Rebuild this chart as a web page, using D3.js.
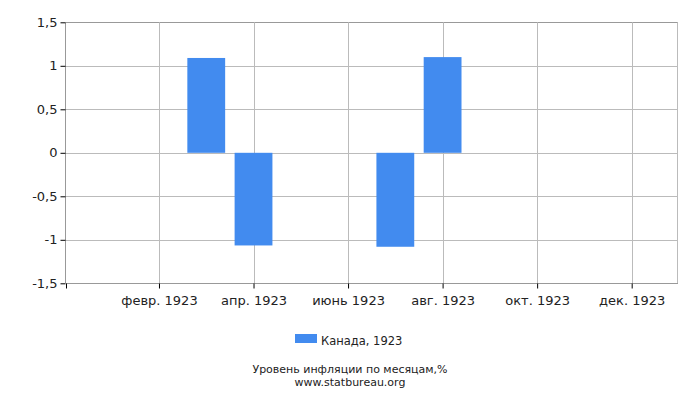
<!DOCTYPE html>
<html><head><meta charset="utf-8">
<script src="https://cdn.jsdelivr.net/npm/d3@7"></script>
<style>body{margin:0;background:#fff;}text{font-family:"DejaVu Sans",sans-serif;}</style>
</head><body>
<svg id="c" width="700" height="400"></svg>
<script>
const months = ["янв. 1923","февр. 1923","март 1923","апр. 1923","май 1923","июнь 1923","июль 1923","авг. 1923","сент. 1923","окт. 1923","нояб. 1923","дек. 1923"];
const values = [null, null, 1.09, -1.065, null, null, -1.08, 1.10, null, null, null, null];
const tickMonths = [1, 3, 5, 7, 9, 11];
const yTicks = [-1.5, -1, -0.5, 0, 0.5, 1, 1.5];
const seriesName = "Канада, 1923";
const title = "Уровень инфляции по месяцам,%";
const source = "www.statbureau.org";

const svg = d3.select("#c");
const L = 66, R = 678, T = 22.3, B = 283.3;
const x = d3.scaleLinear().domain([-0.967, 11.98]).range([L, R]);
const y = d3.scaleLinear().domain([-1.5, 1.5]).range([B, T]);
const step = x(1) - x(0);
const bw = step * 0.8;
const fmt = v => String(v).replace(".", ",");

// grid
svg.append("g").selectAll("line").data(yTicks).join("line")
  .attr("x1", L).attr("x2", R).attr("y1", d => Math.round(y(d)) + 0.5).attr("y2", d => Math.round(y(d)) + 0.5)
  .attr("stroke", d => d === 1.5 ? "#999" : "#bbb").attr("stroke-width", 1);
svg.append("g").selectAll("line").data(tickMonths).join("line")
  .attr("x1", d => Math.round(x(d)) + 0.5).attr("x2", d => Math.round(x(d)) + 0.5)
  .attr("y1", T).attr("y2", B).attr("stroke", "#bbb");
svg.append("line").attr("x1", R - 0.5).attr("x2", R - 0.5).attr("y1", T).attr("y2", B).attr("stroke", "#bbb");

// bars
svg.append("g").selectAll("rect").data(values.map((v, i) => ({v, i})).filter(d => d.v !== null)).join("rect")
  .attr("x", d => x(d.i) - bw / 2).attr("width", bw)
  .attr("y", d => y(Math.max(0, d.v))).attr("height", d => Math.abs(y(d.v) - y(0)))
  .attr("fill", "#428bef");

// y axis
const ya = svg.append("g").attr("transform", `translate(${L - 0.5},0)`)
  .call(d3.axisLeft(y).tickValues(yTicks).tickFormat(fmt).tickSize(5).tickPadding(3));
ya.select(".domain").attr("stroke", "#999").attr("d", `M0,${T}V${B}`);
ya.selectAll(".tick line").attr("stroke", "#000");
ya.selectAll(".tick text").attr("font-size", 13).attr("fill", "#222").attr("font-family", "DejaVu Sans");

// x axis
const xa = svg.append("g").attr("transform", `translate(0,${Math.round(B) + 0.5})`)
  .call(d3.axisBottom(x).tickValues([x.invert(L), ...tickMonths]).tickFormat(d => tickMonths.includes(d) ? months[d] : "").tickSize(5).tickPadding(7));
xa.select(".domain").attr("stroke", "#999").attr("d", `M${L},0H${R}`);
xa.selectAll(".tick line").attr("stroke", "#000");
xa.selectAll(".tick text").attr("font-size", 13).attr("fill", "#222").attr("font-family", "DejaVu Sans");

// legend
svg.append("rect").attr("x", 295).attr("y", 334).attr("width", 22).attr("height", 9).attr("fill", "#428bef");
svg.append("text").attr("x", 321).attr("y", 344.5).attr("font-size", 11.5).attr("fill", "#222").text(seriesName);

svg.append("text").attr("x", 350).attr("y", 373).attr("text-anchor", "middle").attr("font-size", 11).attr("fill", "#222").text(title);
svg.append("text").attr("x", 350).attr("y", 386).attr("text-anchor", "middle").attr("font-size", 11).attr("fill", "#222").text(source);
</script>
</body></html>
